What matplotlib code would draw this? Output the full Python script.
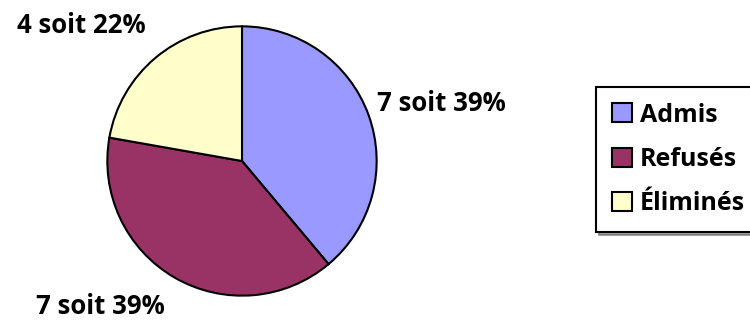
import matplotlib
matplotlib.use("Agg")
import matplotlib.pyplot as plt
from matplotlib.patches import Patch

categories = ["Admis", "Refusés", "Éliminés"]
values = [7, 7, 4]
colors = ["#9999FF", "#993366", "#FFFFCC"]

plt.rcParams['font.family'] = ['Open Sans', 'DejaVu Sans']

fig = plt.figure(figsize=(7.5, 3.25), dpi=100)
ax = fig.add_axes([106/750, 28/325, 272/750, 272/325])
total = sum(values)
wedges, _ = ax.pie(values, colors=colors, startangle=90, counterclock=False,
                   wedgeprops=dict(edgecolor="black", linewidth=1.5))
ax.set_xlim(-1.01, 1.01)
ax.set_ylim(-1.01, 1.01)
ax.set_aspect('equal')

label_pos = [(1.478, 0.43), (-1.055, -1.081), (-1.195, 1.007)]
for v, (x, y) in zip(values, label_pos):
    pct = round(v / total * 100)
    ax.text(x, y, f"{v} soit {pct}%", ha="center", va="center",
            fontsize=18.5, fontweight="bold", clip_on=False)

handles = [Patch(facecolor=c, edgecolor="black", linewidth=1.5) for c in colors]
leg = fig.legend(handles, categories, loc="upper left",
                 bbox_to_anchor=(596/750, 1 - 87/325), frameon=True,
                 prop=dict(size=18, weight="bold"), handlelength=0.8,
                 handleheight=0.8, handletextpad=0.32, labelspacing=0.78,
                 borderpad=0.62, borderaxespad=0, fancybox=False, shadow=True)
leg.get_frame().set_edgecolor("black")
leg.get_frame().set_linewidth(1.5)

fig.savefig("out.png", dpi=100)
